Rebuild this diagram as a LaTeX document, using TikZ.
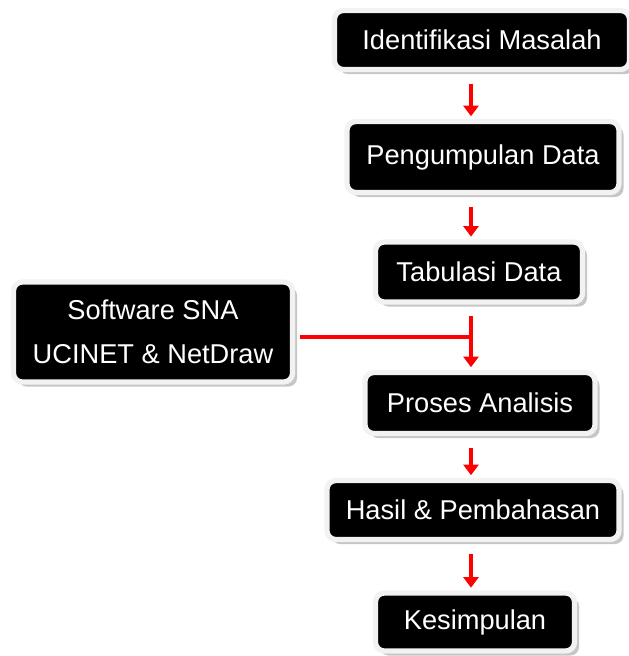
\documentclass[tikz,border=0pt]{standalone}
\usepackage{fontspec}
\setmainfont{Liberation Sans}
\usetikzlibrary{arrows.meta, shadows}
\tikzset{
-{Triangle[width=8.5pt,length=6pt]}, % every connector gets a filled head
flow/.style={draw=red, line width=1.9pt, shorten <=6.5pt, shorten >=1.5pt}, % red connectors
box/.style={rectangle, rounded corners=5pt, fill=black, draw=gray!10, line width=3pt,
  text=white, font=\fontsize{15.5}{25}\selectfont, align=center, inner sep=0pt,
  drop shadow={shadow xshift=2.6pt, shadow yshift=-2.6pt, fill=gray!45, opacity=1}}, % black boxes with light rim
}

\begin{document}
\begin{tikzpicture}
\useasboundingbox (0,0) rectangle (12.58,-13.12);

\node[box, minimum width=5.90cm, minimum height=1.18cm] at (9.64,-0.80) (ident) {Identifikasi Masalah};
\node[box, minimum width=5.44cm, minimum height=1.42cm] at (9.66,-3.14) (kumpul) {Pengumpulan Data};
\node[box, minimum width=4.14cm, minimum height=1.20cm] at (9.58,-5.44) (tabul) {Tabulasi Data};
\node[box, minimum width=5.58cm, minimum height=2.00cm] at (3.06,-6.64) (sna) {Software SNA\\UCINET \& NetDraw};
\node[box, minimum width=4.60cm, minimum height=1.22cm] at (9.60,-8.06) (analisis) {Proses Analisis};
\node[box, minimum width=5.84cm, minimum height=1.18cm] at (9.46,-10.20) (hasil) {Hasil \& Pembahasan};
\node[box, minimum width=3.98cm, minimum height=1.16cm] at (9.50,-12.44) (simpul) {Kesimpulan};

\coordinate (junc) at (9.42,-6.74);

\draw[flow] (ident.south -| junc) -- (kumpul.north -| junc);
\draw[flow] (kumpul.south -| junc) -- (tabul.north -| junc);
\draw[flow] (tabul.south -| junc) -- (analisis.north -| junc);
\draw[flow, -, shorten <=3pt, shorten >=0pt] (sna.east |- junc) -- (junc);
\draw[flow] (analisis.south -| junc) -- (hasil.north -| junc);
\draw[flow] (hasil.south -| junc) -- (simpul.north -| junc);

\end{tikzpicture}
\end{document}
